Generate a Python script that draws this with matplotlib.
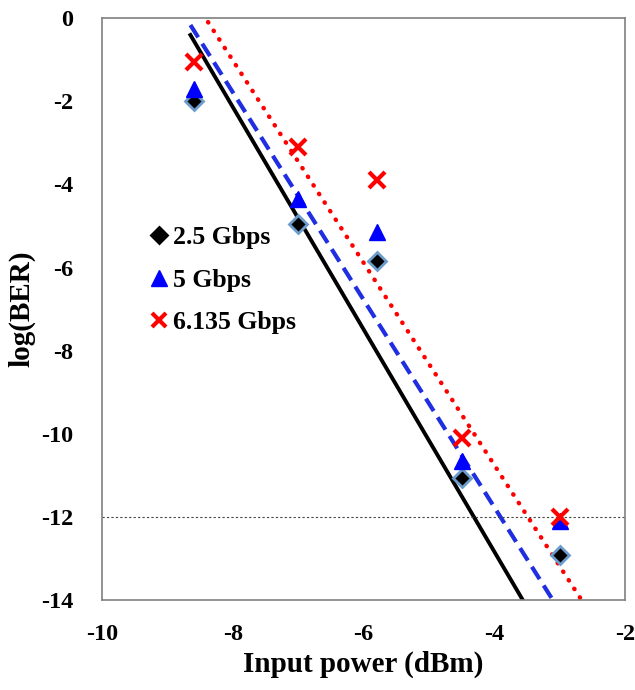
import matplotlib.pyplot as plt

plt.rcParams["font.family"] = ["Liberation Serif", "DejaVu Serif"]
plt.rcParams["font.weight"] = "bold"
plt.rcParams["axes.unicode_minus"] = False

power = [-8.6, -7.0, -5.8, -4.5, -3.0]
ber_25 = [-2.0, -4.95, -5.85, -11.05, -12.9]
ber_5 = [-1.72, -4.35, -5.15, -10.65, -12.1]
ber_6135 = [-1.05, -3.1, -3.9, -10.1, -12.0]

# fitted trend lines (endpoints)
fit_25_x = [-8.65, -3.56]
fit_25_y = [-0.41, -14.0]
fit_5_x = [-8.65, -3.10]
fit_5_y = [-0.17, -14.0]
fit_6135_x = [-8.38, -2.66]
fit_6135_y = [-0.10, -14.0]

fig = plt.figure(figsize=(6.35, 6.9), dpi=100)
ax = fig.add_axes([0.161, 0.13, 0.823, 0.844])

ax.plot(fit_25_x, fit_25_y, color="black", lw=2.8)
ax.plot(fit_5_x, fit_5_y, color="#1f2ee0", lw=3, ls=(0, (3.5, 1.8)))
ax.plot(fit_6135_x, fit_6135_y, color="red", lw=3.2, ls=(0, (0.1, 2.2)),
        dash_capstyle="round")
ax.axhline(-12, color="#444444", lw=0.8, ls=(0, (2, 2)))

ax.plot(power, ber_25, ls="none", marker="D", ms=9.5, color="black",
        mec="#6b9ccc", mew=2, label="2.5 Gbps")
ax.plot(power, ber_5, ls="none", marker="^", ms=11, color="blue",
        label="5 Gbps")
ax.plot(power, ber_6135, ls="none", marker="x", ms=12, mew=3,
        color="red", label="6.135 Gbps")

ax.set_xlim(-10, -2)
ax.set_ylim(-14, 0)
ax.set_xticks([-10, -8, -6, -4, -2])
ax.set_yticks(range(-14, 1, 2))
ax.tick_params(axis="x", length=0, labelsize=17.5, pad=17)
ax.tick_params(axis="y", length=0, labelsize=17.5, pad=21)
for lab in ax.get_xticklabels() + ax.get_yticklabels():
    lab.set_fontweight("bold")
for s in ax.spines.values():
    s.set_color("#808080")
    s.set_linewidth(1.2)

ax.set_xlabel("Input power (dBm)", fontsize=21, fontweight="bold", labelpad=4)
ax.set_ylabel("log(BER)", fontsize=21, fontweight="bold", labelpad=4)

leg = ax.legend(loc="center left", bbox_to_anchor=(0.05, 0.55), frameon=False,
                handlelength=0.6, handletextpad=0.25, labelspacing=0.75,
                prop={"weight": "bold", "size": 18.5})
leg.legend_handles[0].set_markeredgecolor("black")
leg.legend_handles[0].set_markersize(8)
leg.legend_handles[2].set_markersize(10)

fig.savefig("out.png", dpi=100)
